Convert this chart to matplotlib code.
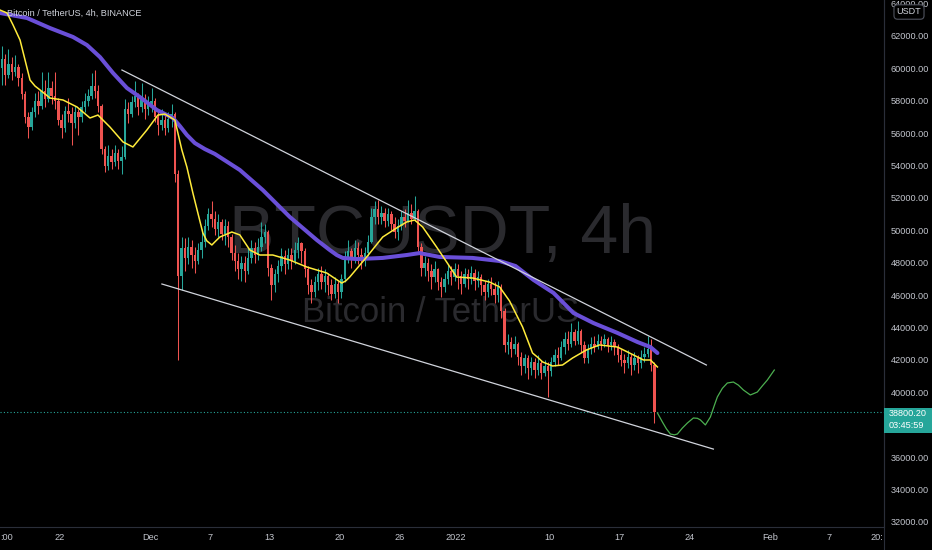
import numpy as np
import matplotlib.pyplot as plt
from matplotlib.patches import Rectangle
from matplotlib.lines import Line2D

plt.rcParams['font.family'] = ['Liberation Sans', 'DejaVu Sans']

# x axis: days since 22 Nov 2021, 8h candles
t_start = -6.0
step = 1 / 3
first_open = 60000

closes = [
    60600, 59600, 60300, 59800, 60100, 59400,
    58400, 57000, 56400,
    57300, 58000, 57700, 58600, 58100, 58800, 58300, 58000,
    56800, 56300, 57400,
    57200, 56600, 57300, 57000,
    57600, 58000, 58300, 58900, 58600, 57700,
    55000, 54000,
    54600, 54200, 54800, 54300, 54500,
    57500, 57200, 57900, 58300, 57600, 58100, 57500, 57800, 58000,
    57000, 56500, 56800, 56300, 56900, 57200,
    53500, 47200, 48900,
    48300, 49000, 48500, 48100, 48800, 49300,
    50300, 51000, 50700, 50100,
    50500, 49800, 50300, 49600,
    48600, 48100, 47600, 48000, 47500,
    48300, 48900, 48500, 49000, 49600, 49900,
    47700, 46600, 47300,
    47800, 48400, 47900, 48500, 48100,
    48800, 49200, 48700,
    47600, 46600, 46200, 46800,
    47300, 46800, 47200, 46600, 46100, 46700, 46200,
    47000, 48300, 48700, 48200, 48900, 48500, 48100, 48600, 49300,
    50800, 51300, 50800, 51100, 50600, 51000, 50400, 49900, 50300, 50800, 50600, 51100, 50700, 51200,
    49000, 47700,
    48000, 47500, 47100, 47600, 46800, 46500, 47000, 47500,
    47100, 47600, 47200, 46700, 47300, 47000, 47400, 46900, 47100,
    46600, 46200, 46700, 46400, 46000, 46500,
    45000, 42900,
    43100, 42700, 43000,
    42200, 41600, 42100, 41500, 41900,
    41400, 41800, 41200, 41600, 41300,
    41900, 42300, 42100, 42800,
    43300, 43000, 43700, 43200, 43800,
    42900, 42100, 42700,
    43000, 42800, 43200, 43000, 43300, 42900, 43100, 42800,
    42300, 42000, 41800, 42200, 41700, 42100, 41800, 42200,
    42400, 42700, 41700, 38800.2,
]
highs = [
    61400, 60900, 61200, 60700, 60800, 60300,
    59700, 58600, 57300,
    57600, 58500, 58600, 59800, 59300, 59800, 59200, 59800,
    58200, 57200, 57700,
    58200, 57600, 57700, 57500,
    58000, 58500, 58700, 59700, 59900, 59000,
    57800, 55200,
    55300, 55000, 55300, 55000, 55200,
    58100, 57900, 58300, 59200, 58500, 59100, 58400, 58300, 58800,
    58200, 57400, 57500, 57100, 57300, 57800,
    57300, 53700, 49600,
    49500, 49600, 49400, 49000, 49200, 50100,
    50700, 51400, 51800, 51200,
    51000, 50700, 50700, 50600,
    49800, 49100, 48600, 48400, 48400,
    48900, 49400, 49300, 49500, 50500, 50400,
    50000, 47900, 47600,
    48200, 48900, 48800, 48900, 48900,
    49300, 49600, 49300,
    48900, 47800, 47000, 47200,
    47700, 47800, 47600, 47400, 47000, 47100, 46900,
    47300, 48700, 49400, 48900, 49400, 49300, 48900, 49000, 49700,
    51400, 51800, 51900, 51500, 51400, 51400, 51200, 50800, 50700, 51200, 51300, 51900, 51600, 52100,
    51300, 49200,
    48400, 48300, 47900, 48100, 47700, 47100, 47400, 47900,
    47800, 48000, 47900, 47500, 47700, 47600, 47800, 47600, 47500,
    47300, 46900, 47000, 47100, 46800, 46900,
    46700, 45200,
    43600, 43400, 43500,
    43100, 42500, 42400, 42300, 42200,
    42100, 42300, 42000, 42000, 41900,
    42200, 42700, 42800, 43200,
    43700, 43800, 44300, 43900, 44400,
    43900, 43200, 43000,
    43400, 43500, 43600, 43500, 43600, 43400, 43500, 43300,
    43000, 42700, 42400, 42600, 42400, 42500, 42300, 42600,
    42800, 43500, 43300, 41900,
]
lows = [
    59000, 59000, 59400, 59300, 59500, 58900,
    58100, 56600, 55700,
    56200, 57000, 57200, 57500, 57600, 57900, 57800, 57500,
    56500, 55700, 56100,
    56700, 55300, 56300, 55900,
    56700, 57300, 57700, 58100, 58200, 57300,
    54700, 53600,
    53700, 53800, 54000, 53800, 53500,
    54400, 56600, 57000, 57600, 57100, 57300, 56900, 57100, 57300,
    56700, 55900, 56200, 55900, 56100, 56400,
    53000, 42000, 46300,
    47500, 47900, 47700, 47400, 47900, 48300,
    49000, 50000, 50200, 49700,
    49600, 49400, 49100, 49000,
    48200, 47500, 47000, 46900, 46800,
    47300, 48000, 48000, 48200, 48700, 49200,
    47200, 45700, 46200,
    46800, 47500, 47300, 47600, 47600,
    47900, 48300, 48000,
    47100, 46100, 45500, 45900,
    46300, 46400, 46200, 46000, 45700, 45800, 45500,
    45800, 46800, 48000, 47700, 48000, 47900, 47600, 47800, 48400,
    49200, 50400, 50400, 50400, 50200, 50300, 50000, 49500, 49400, 50000, 50200, 50500, 50400, 50600,
    48700, 47200,
    47200, 46900, 46400, 46800, 46300, 45900, 46200, 46700,
    46600, 46900, 46400, 46100, 46500, 46400, 46700, 46300, 46500,
    46000, 45700, 45900, 46000, 45500, 45600,
    44600, 42500,
    42400, 42200, 42400,
    41700, 41100, 41200, 40800, 41100,
    40900, 41100, 40800, 41000, 39700,
    41000, 41600, 41700, 42000,
    42400, 42600, 42800, 42900, 43000,
    42500, 41800, 41800,
    42400, 42500, 42700, 42600, 42800, 42500, 42600, 42300,
    41900, 41600, 41200, 41500, 41100, 41400, 41200, 41500,
    41900, 42200, 41300, 38100,
]

# fast MA (yellow)
fast_days = [-6.0, -5.3, -4.7, -4.0, -3.5, -3.0, -2.5, -2.0, -1.0, 0.3, 1.7, 3.0, 3.8, 5.0, 6.3,
             7.3, 8.7, 9.8, 10.5, 11.0, 11.5, 12.2, 12.7, 13.3, 14.3, 14.7, 15.2, 15.6, 16.0,
             17.2, 18.0, 19.0, 20.0, 21.3, 23.0, 24.7, 26.7, 28.2, 28.6, 29.0, 30.7, 32.3, 33.7,
             34.7, 35.5, 36.3, 37.7, 38.7, 39.7, 41.3, 43.0, 44.0, 45.0, 46.3, 47.3, 47.9, 48.3,
             49.3, 50.3, 51.3, 52.7, 54.0, 55.8, 57.4, 58.4, 59.1, 59.8]
fast_vals = [63600, 63420, 62680, 61750, 60520, 59280, 58910, 58670, 58170, 58050, 57620, 56940,
             57120, 56380, 55460, 55150, 56200, 57120, 57180, 57000, 56810, 54960, 53910, 52310,
             49840, 49350, 49100, 49350, 49590, 49900, 49720, 48790, 48480, 48480, 48170, 47740,
             47370, 46750, 46880, 47120, 48360, 49590, 50150, 50520, 50640, 50210, 48970, 48050,
             47120, 47060, 46810, 46510, 45640, 44040, 42430, 42120, 41880, 41630, 41690, 42120,
             42620, 42930, 42800, 42310, 42000, 42000, 41570]

# slow MA (purple)
slow_days = [-6.0, -3.3, -1.0, 1.3, 2.7, 4.0, 5.3, 6.7, 8.0, 9.7, 11.3, 12.0, 12.7, 13.5, 14.5,
             15.5, 18.0, 20.3, 23.0, 25.7, 27.0, 27.7, 28.3, 29.7, 32.3, 34.7, 36.0, 38.0, 41.3,
             44.0, 45.6, 47.4, 49.4, 51.4, 53.4, 55.8, 57.8, 59.1, 59.8]
slow_vals = [63420, 63110, 62490, 61940, 61440, 60700, 59720, 58790, 58230, 57430, 56940, 56440,
             55890, 55390, 55020, 54720, 53730, 52490, 50830, 49410, 48790, 48480, 48300, 48230,
             48300, 48480, 48600, 48360, 48300, 48110, 47800, 46940, 46140, 44900, 44280, 43670,
             43110, 42800, 42430]

# channel lines (start, end)
upper_days = [6.2, 64.7]
upper_vals = [59900, 41690]
lower_days = [10.2, 65.4]
lower_vals = [46690, 36500]

# projected path (green)
proj_days = [59.8, 60.3, 60.7, 61.1, 61.5, 61.8, 62.3, 62.8, 63.4, 63.8, 64.1, 64.6, 65.1, 65.5,
             65.8, 66.3, 66.8, 67.4, 67.9, 68.4, 69.1, 69.8, 70.3, 70.8, 71.5]
proj_vals = [38730, 38170, 37750, 37430, 37380, 37430, 37800, 38110, 38420, 38400, 38300, 37990,
             38480, 39200, 39720, 40250, 40580, 40640, 40450, 40150, 39840, 40020, 40400, 40760, 41380]

last_price = 38800.2
price_ticks = [32000, 34000, 36000, 40000, 42000, 44000, 46000, 48000, 50000, 52000, 54000,
               56000, 58000, 60000, 62000, 64000]
date_ticks = [-6.0, 0, 9, 15, 21, 28, 34, 39.6, 49, 56, 63, 71.1, 77, 82.4]
date_labels = [':00', '22', 'Dec', '7', '13', '20', '26', '2022', '10', '17', '24', 'Feb', '7', '20:']

bg = '#000000'
up_col = '#26a69a'
down_col = '#ef5350'
txt_col = '#c3c6ce'

fig = plt.figure(figsize=(9.32, 5.5), dpi=100, facecolor=bg)
ax = fig.add_axes([0, 23 / 550, 884 / 932, 527 / 550], facecolor=bg)

# watermark
ax.text(0.5006, 0.52, 'BTCUSDT, 4h', transform=ax.transAxes, ha='center', va='baseline',
        fontsize=49, color='#2a2a2e', zorder=0)
ax.text(0.499, 0.389, 'Bitcoin / TetherUS', transform=ax.transAxes, ha='center', va='baseline',
        fontsize=25, color='#2a2a2e', zorder=0)

# candles
c = np.array(closes, dtype=float)
o = np.concatenate([[first_open], c[:-1]])
h = np.array(highs, dtype=float)
lo = np.array(lows, dtype=float)
t = t_start + (np.arange(len(c)) + 0.5) * step
cols = np.where(c >= o, up_col, down_col)
ax.vlines(t, lo, h, colors=cols, linewidth=0.75, zorder=2)
body = np.maximum(np.abs(c - o), 40)
ax.bar(t, body, bottom=np.minimum(o, c), width=0.24, color=cols, linewidth=0, zorder=2)

# indicators
ax.plot(slow_days, slow_vals, color='#6a4fd8', linewidth=2.9, solid_capstyle='round',
        solid_joinstyle='round', zorder=3)
ax.plot(fast_days, fast_vals, color='#ffeb3b', linewidth=1.1, solid_joinstyle='round', zorder=4)

# channel and projection
ax.plot(upper_days, upper_vals, color='#d1d4dc', linewidth=0.9, zorder=4)
ax.plot(lower_days, lower_vals, color='#d1d4dc', linewidth=0.9, zorder=4)
ax.plot(proj_days, proj_vals, color='#4caf50', linewidth=0.9, solid_joinstyle='round', zorder=4)

ax.axhline(last_price, color=up_col, linestyle=(0, (1, 2)), linewidth=0.8, zorder=1)

ax.set_xlim(-6.006, 82.48)
ax.set_ylim(31690, 64222)

ax.yaxis.tick_right()
ax.set_yticks(price_ticks)
ax.set_yticklabels([f'{v:.2f}' for v in price_ticks])
ax.set_xticks(date_ticks)
ax.set_xticklabels(date_labels)
ax.tick_params(axis='both', length=0, colors=txt_col, labelsize=6.6)
ax.tick_params(axis='y', pad=5)
ax.tick_params(axis='x', pad=4)
xlabs = ax.get_xticklabels()
xlabs[0].set_ha('left')
xlabs[-1].set_ha('right')

for side in ['top', 'left']:
    ax.spines[side].set_visible(False)
ax.spines['right'].set_color('#2a2e39')
ax.spines['bottom'].set_color('#2a2e39')
fig.add_artist(Line2D([884 / 932, 884 / 932], [0, 1], color='#2a2e39', linewidth=0.8))

# header text
ax.text(0.008, 0.975, 'Bitcoin / TetherUS, 4h, BINANCE', transform=ax.transAxes, ha='left',
        va='center', fontsize=6.6, color='#d1d4dc', zorder=6)

# currency badge
fig.text(909 / 932, 1 - 12 / 550, 'USDT', ha='center', va='center', fontsize=6.5, color='#d1d4dc',
         zorder=6,
         bbox=dict(boxstyle='round,pad=0.3,rounding_size=0.4', facecolor=bg, edgecolor='#50535e',
                   linewidth=0.8))

# last price badge
fig.add_artist(Rectangle((884 / 932, 1 - 433 / 550), 48 / 932, 25 / 550, facecolor='#26a69a',
                         edgecolor='none', transform=fig.transFigure, zorder=5))
fig.text(889 / 932, 1 - 414 / 550, f'{last_price:.2f}', ha='left', va='center', fontsize=6.6,
         color='white', zorder=6)
fig.text(889 / 932, 1 - 426 / 550, '03:45:59', ha='left', va='center', fontsize=6.6,
         color='white', zorder=6)

fig.savefig('out.png', dpi=100, facecolor=bg)
